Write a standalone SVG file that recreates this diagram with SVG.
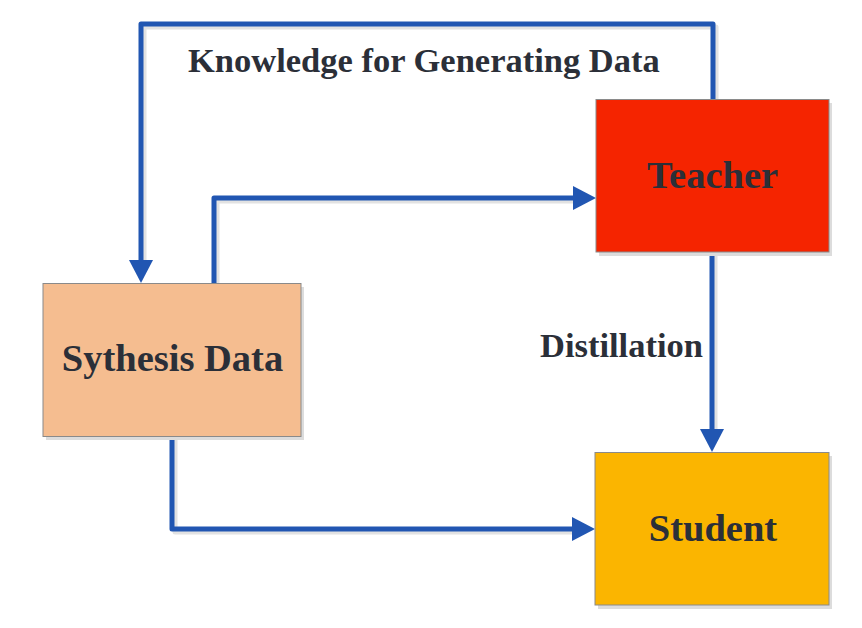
<svg xmlns="http://www.w3.org/2000/svg" width="862" height="628" viewBox="0 0 862 628">
<defs>
<style>
.box{stroke:#8a8a8a;stroke-width:1}
.shadow{fill:#dcdcdc}
.node{font-family:"Liberation Serif","Times New Roman",serif;font-weight:bold;font-size:38.5px;fill:#2b2f38;text-anchor:middle}
.lbl{font-family:"Liberation Serif","Times New Roman",serif;font-weight:bold;font-size:34.5px;fill:#2b2f38}
.wire{fill:none;stroke:#2156B2;stroke-width:5;stroke-linejoin:round;stroke-linecap:round}
.wshadow{fill:none;stroke:#e2e2e2;stroke-width:5;stroke-linejoin:round}
.head{fill:#2156B2}
</style>
<marker id="arr" viewBox="0 0 23 24" refX="3" refY="12" markerWidth="23" markerHeight="24" markerUnits="userSpaceOnUse" orient="auto">
<path d="M0,0 L23,12 L0,24 Z" class="head"/>
</marker>
</defs>
<rect width="862" height="628" fill="#ffffff"/>

<g id="connectors">
<g id="connector-shadows" transform="translate(3,3)">
<path class="wshadow" d="M713,99 L713,24 L141,24 L141,262"/>
<path class="wshadow" d="M214,283 L214,198 L576,198"/>
<path class="wshadow" d="M712,252 L712,432"/>
<path class="wshadow" d="M172,437 L172,529 L575,529"/>
</g>
<path id="edge-knowledge" class="wire" d="M713,99 L713,24 L141,24 L141,263" marker-end="url(#arr)"/>
<path id="edge-data-teacher" class="wire" d="M214,283 L214,198 L576,198" marker-end="url(#arr)"/>
<path id="edge-distill" class="wire" d="M712,252 L712,432" marker-end="url(#arr)"/>
<path id="edge-data-student" class="wire" d="M172,437 L172,529 L575,529" marker-end="url(#arr)"/>
<text class="lbl" x="188" y="72">Knowledge for Generating Data</text>
<text class="lbl" x="540" y="357">Distillation</text>
</g>

<g id="teacher">
<rect class="shadow" x="599" y="103" width="233" height="153"/>
<rect class="box" x="596" y="99.5" width="233" height="152.5" fill="#F52400"/>
<text class="node" x="712.5" y="188">Teacher</text>
</g>

<g id="synthesis-data">
<rect class="shadow" x="46" y="287" width="258" height="153"/>
<rect class="box" x="43" y="283.5" width="258" height="153" fill="#F5BD90"/>
<text class="node" x="172.5" y="371">Sythesis Data</text>
</g>

<g id="student">
<rect class="shadow" x="598" y="456" width="234" height="153"/>
<rect class="box" x="595" y="452.5" width="234" height="152.5" fill="#FBB500"/>
<text class="node" x="713" y="540.5">Student</text>
</g>
</svg>
